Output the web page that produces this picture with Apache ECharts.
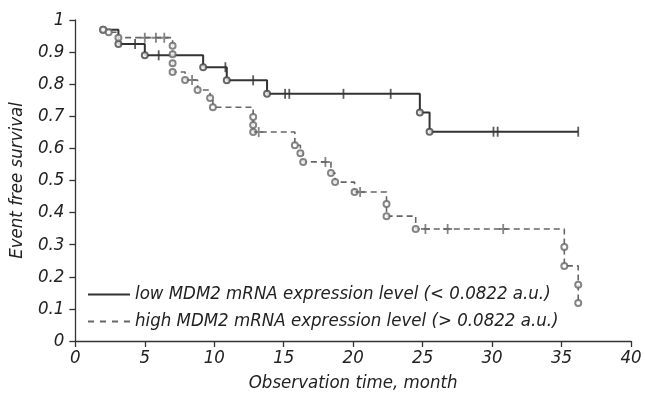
<!DOCTYPE html>
<html>
<head>
<meta charset="utf-8">
<script src="https://cdn.jsdelivr.net/npm/echarts@6/dist/echarts.min.js"></script>
<style>
  html, body { margin: 0; padding: 0; background: #fff; }
  #chart { width: 645px; height: 399px; }
</style>
</head>
<body>
<div id="chart"></div>
<script>
// 数据
var xTicks = [0, 5, 10, 15, 20, 25, 30, 35, 40];
var yTicks = [0, 0.1, 0.2, 0.3, 0.4, 0.5, 0.6, 0.7, 0.8, 0.9, 1];

var lowName = "low MDM2 mRNA expression level (< 0.0822 a.u.)";
var highName = "high MDM2 mRNA expression level (> 0.0822 a.u.)";

// low group: events
var lowTime = [2.0, 3.1, 5.0, 9.2, 10.9, 13.8, 24.8, 25.5];
var lowSurv = [0.97, 0.925, 0.89, 0.853, 0.812, 0.77, 0.712, 0.652];
// low group: censored
var lowCensTime = [4.3, 6.0, 10.8, 12.8, 15.1, 15.4, 19.3, 22.7, 30.1, 30.4, 36.2];
var lowCensSurv = [0.925, 0.89, 0.853, 0.812, 0.77, 0.77, 0.77, 0.77, 0.652, 0.652, 0.652];

// high group: events
var highTime = [2.0, 2.4, 3.1, 7.0, 7.0, 7.0, 7.0, 7.9, 8.8, 9.7, 9.9, 12.8, 12.8, 12.8,
    15.8, 16.2, 16.4, 18.4, 18.7, 20.1, 22.4, 22.4, 24.5, 35.2, 35.2, 36.2, 36.2];
var highSurv = [0.97, 0.962, 0.945, 0.92, 0.893, 0.865, 0.838, 0.813, 0.782, 0.757, 0.728, 0.698, 0.673, 0.651,
    0.61, 0.585, 0.558, 0.523, 0.495, 0.464, 0.427, 0.389, 0.349, 0.293, 0.234, 0.175, 0.118];
// high group: censored
var highCensTime = [5.0, 5.8, 6.4, 8.4, 13.2, 18.0, 20.5, 25.2, 26.8, 30.8];
var highCensSurv = [0.945, 0.945, 0.945, 0.813, 0.651, 0.558, 0.464, 0.349, 0.349, 0.349];

function zip(a, b) {
    let out = [];
    a.forEach((v, i) => { out.push([v, b[i]]); });
    return out;
}

var lowLine = zip(lowTime, lowSurv);
lowLine.push([lowCensTime[lowCensTime.length - 1], lowCensSurv[lowCensSurv.length - 1]]);
var highLine = zip(highTime, highSurv);

var font = "'DejaVu Sans Condensed', 'DejaVu Sans', sans-serif";
var tickSym = 'path://M0,0H2V10H0Z';
var plusSym = 'path://M4,0H6V4H10V6H6V10H4V6H0V4H4Z';
// 图例图标：实线 / 虚线
var solidIcon = 'path://M0,0H42V2H0Z';
var dashIcon = 'path://M0,0H6V2H0Z M12,0H18V2H12Z M24,0H30V2H24Z M36,0H42V2H36Z';

var myChart = echarts.init(document.getElementById('chart'));
myChart.setOption({
    animation: false,
    textStyle: { fontFamily: font },
    grid: { left: 75, right: 14, top: 20, bottom: 58 },
    legend: {
        data: [
            { name: lowName, icon: solidIcon, itemStyle: { color: '#333' } },
            { name: highName, icon: dashIcon, itemStyle: { color: '#666' } }
        ],
        orient: 'vertical',
        left: 83,
        top: 280,
        itemWidth: 42,
        itemHeight: 2,
        itemGap: 8,
        textStyle: { fontFamily: font, fontStyle: 'italic', fontSize: 18.5, color: '#222' }
    },
    xAxis: {
        type: 'value',
        min: 0, max: 40, interval: 5,
        name: 'Observation time, month',
        nameLocation: 'middle',
        nameGap: 33,
        nameTextStyle: { fontFamily: font, fontStyle: 'italic', fontSize: 18.5, color: '#222' },
        axisLine: { lineStyle: { color: '#333', width: 1.3 } },
        axisTick: { length: 6, lineStyle: { color: '#333', width: 1.3 } },
        axisLabel: { fontStyle: 'italic', fontSize: 18.5, color: '#222', margin: 8 },
        splitLine: { show: false }
    },
    yAxis: {
        type: 'value',
        min: 0, max: 1, interval: 0.1,
        name: 'Event free survival',
        nameLocation: 'middle',
        nameGap: 47,
        nameTextStyle: { fontFamily: font, fontStyle: 'italic', fontSize: 18.5, color: '#222' },
        axisLine: { show: true, lineStyle: { color: '#333', width: 1.3 } },
        axisTick: { show: true, length: 6, lineStyle: { color: '#333', width: 1.3 } },
        axisLabel: { fontStyle: 'italic', fontSize: 18.5, color: '#222', margin: 11 },
        splitLine: { show: false }
    },
    series: [
        {
            name: lowName,
            type: 'line',
            step: 'end',
            symbol: 'none',
            data: lowLine,
            lineStyle: { color: '#333', width: 2 },
            itemStyle: { color: '#333' },
            z: 3
        },
        {
            name: highName,
            type: 'line',
            step: 'end',
            symbol: 'none',
            data: highLine,
            lineStyle: { color: '#666', width: 1.6, type: [6, 4] },
            itemStyle: { color: '#666' },
            z: 2
        },
        {
            name: 'low events',
            type: 'scatter',
            symbol: 'emptyCircle',
            symbolSize: 6,
            data: zip(lowTime, lowSurv),
            itemStyle: { color: '#444', borderWidth: 1.3 },
            z: 4
        },
        {
            name: 'high events',
            type: 'scatter',
            symbol: 'emptyCircle',
            symbolSize: 6,
            data: zip(highTime, highSurv),
            itemStyle: { color: '#666', borderWidth: 1.3 },
            z: 4
        },
        {
            name: 'low censored',
            type: 'scatter',
            symbol: tickSym,
            symbolSize: [1.8, 10],
            data: zip(lowCensTime, lowCensSurv),
            itemStyle: { color: '#333' },
            z: 4
        },
        {
            name: 'high censored',
            type: 'scatter',
            symbol: plusSym,
            symbolSize: [9, 10],
            data: zip(highCensTime, highCensSurv),
            itemStyle: { color: '#666' },
            z: 4
        }
    ]
});
</script>
</body>
</html>
